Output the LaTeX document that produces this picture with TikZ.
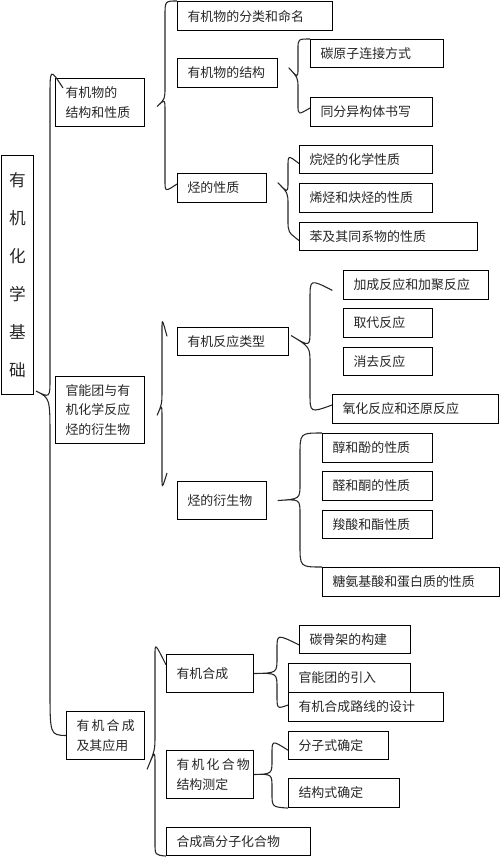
\documentclass[tikz,border=0pt]{standalone}
\usepackage{fontspec}
\setmainfont{Noto Sans CJK SC}

\begin{document}
\begin{tikzpicture}[x=0.75pt,y=0.75pt,yscale=-1,xscale=1,
  bx/.style 2 args={draw, line width=0.8pt, anchor=north west, inner xsep=7.5pt, inner ysep=0pt,
    align=left, text width=#1*0.75pt-15pt, minimum height=#2*0.75pt,
    text=black!85, font=\fontsize{9.7}{14.5}\selectfont},
  brc/.style={draw, line width=0.8pt, black!85}]
\useasboundingbox (0,0) rectangle (500,857);

%Root box
\node [draw, line width=0.8pt, anchor=north west, inner sep=0pt, minimum width=24pt, minimum height=179.25pt,
  align=center, text=black!85, font=\fontsize{12.5}{28.5}\selectfont] (root) at (1,155) {有\\机\\化\\学\\基\\础};

%Level one
\node [bx={89}{48}] (a) at (55,78) {有机物的\\结构和性质};
\node [bx={89}{67}] (b) at (55,376) {官能团与有\\机化学反应\\烃的衍生物};
\node [bx={78}{48}] (c) at (66,711) {有\,机\,合\,成\\及其应用};

%Structure and properties
\node [bx={155}{29}] (a1) at (177,1) {有机物的分类和命名};
\node [bx={100}{29}] (a2) at (177,58) {有机物的结构};
\node [bx={89}{29}] (a3) at (177,173) {烃的性质};
\node [bx={133}{28}] (a21) at (310,39) {碳原子连接方式};
\node [bx={122}{29}] (a22) at (310,97) {同分异构体书写};
\node [bx={133}{28}] (a31) at (299,145) {烷烃的化学性质};
\node [bx={133}{29}] (a32) at (299,183) {烯烃和炔烃的性质};
\node [bx={178}{28}] (a33) at (299,222) {苯及其同系物的性质};

%Functional groups
\node [bx={111}{28}] (b1) at (177,327) {有机反应类型};
\node [bx={89}{38}] (b2) at (177,481) {烃的衍生物};
\node [bx={145}{29}] (b11) at (343,270) {加成反应和加聚反应};
\node [bx={89}{29}] (b12) at (343,308) {取代反应};
\node [bx={89}{28}] (b13) at (343,347) {消去反应};
\node [bx={166}{29}] (b14) at (332,394) {氧化反应和还原反应};
\node [bx={110}{29}] (b21) at (322,433) {醇和酚的性质};
\node [bx={110}{29}] (b22) at (322,471) {醛和酮的性质};
\node [bx={110}{28}] (b23) at (322,510) {羧酸和酯性质};
\node [bx={177}{29}] (b24) at (322,567) {糖氨基酸和蛋白质的性质};

%Synthesis
\node [bx={87}{38}] (c1) at (166,654) {有机合成};
\node [bx={87}{48}] (c2) at (166,750) {有\,机\,化\,合\,物\\结构测定};
\node [bx={144}{28}] (c3) at (166,827) {合成高分子化合物};
\node [bx={111}{28}] (c11) at (299,625) {碳骨架的构建};
\node [bx={122}{29}] (c12) at (288,663) {官能团的引入};
\node [bx={155}{29}] (c13) at (288,692) {有机合成路线的设计};
\node [bx={100}{28}] (c21) at (288,731) {分子式确定};
\node [bx={111}{29}] (c22) at (288,778) {结构式确定};

%Curve Lines
\draw [brc] ([xshift=6pt,yshift=7.5pt]a.north west) .. controls (50,68) and (50,68) .. (50,98) -- (50,378) .. controls (50,398) and (50,398) .. ([xshift=1.5pt,yshift=-3pt]root.south east) .. controls (50,398) and (50,398) .. (50,438) -- (50,688) .. controls (50,735) and (50,735) .. (c.west) ;
%Curve Lines
\draw [brc] (a1.north west) .. controls (165,1) and (165,1) .. (165,16) -- (165,87) .. controls (165,99) and (165,99) .. ([xshift=9pt,yshift=3pt]a.east) .. controls (165,99) and (165,99) .. (165,111) -- (165,180) .. controls (165,192) and (165,192) .. ([yshift=-3pt]a3.west) ;
%Curve Lines
\draw [brc] (a21.north west) .. controls (298,39) and (298,39) .. (298,49) -- (298,68) .. controls (298,78) and (298,78) .. ([xshift=8pt,yshift=-4pt]a2.east) .. controls (298,78) and (298,78) .. (298,88) -- (298,105) .. controls (298,115) and (298,115) .. ([yshift=-3pt]a22.west) ;
%Curve Lines
\draw [brc] ([yshift=3pt]a31.west) .. controls (288,155) and (288,155) .. (288,167) -- (288,181) .. controls (288,193) and (288,193) .. ([xshift=8pt,yshift=-4pt]a3.east) .. controls (288,193) and (288,193) .. (288,205) -- (288,220) .. controls (288,232) and (288,232) .. ([yshift=3pt]a33.west) ;
%Curve Lines
\draw [brc] ([xshift=-7.5pt,yshift=7pt]b1.north west) .. controls (162,318) and (162,318) .. (162,330) -- (162,389) .. controls (162,404) and (162,404) .. ([xshift=9pt,yshift=4pt]b.east) .. controls (162,404) and (162,404) .. (162,419) -- (162,477) .. controls (162,489) and (162,489) .. ([xshift=-7.5pt,yshift=-6pt]b2.north west) ;
%Curve Lines
\draw [brc] ([xshift=-8pt,yshift=4pt]b11.west) .. controls (310,279) and (310,279) .. (310,299) -- (310,330) .. controls (310,347) and (310,347) .. ([xshift=1.5pt,yshift=-4.5pt]b1.east) .. controls (310,347) and (310,347) .. (310,364) -- (310,393) .. controls (310,413) and (310,413) .. ([yshift=-3pt]b14.west) ;
%Curve Lines
\draw [brc] (b21.north west) .. controls (300,433) and (300,433) .. (300,455) -- (300,484) .. controls (300,499) and (300,499) .. ([xshift=8pt]b2.east) .. controls (300,499) and (300,499) .. (300,514) -- (300,545) .. controls (300,567) and (300,567) .. (b24.north west) ;
%Curve Lines
\draw [brc] ([yshift=8pt]c1.north west) .. controls (155,643) and (155,643) .. (155,655) -- (155,735) .. controls (155,750) and (155,750) .. ([xshift=1.5pt,yshift=7pt]c.south east) .. controls (155,750) and (155,750) .. (155,765) -- (155,843) .. controls (155,855) and (155,855) .. (c3.south west) ;
%Curve Lines
\draw [brc] ([yshift=4pt]c11.west) .. controls (277,634) and (277,634) .. (277,649) -- (277,658) .. controls (277,673) and (277,673) .. (c1.east) .. controls (277,673) and (277,673) .. (277,688) -- (277,695) .. controls (277,709) and (277,709) .. ([yshift=-1.5pt]c13.west) ;
%Curve Lines
\draw [brc] ([yshift=3.5pt]c21.west) .. controls (272,740) and (272,740) .. (272,754) -- (272,760) .. controls (272,774) and (272,774) .. (c2.east) .. controls (272,774) and (272,774) .. (272,788) -- (272,793) .. controls (272,807) and (272,807) .. (c22.south west) ;
\end{tikzpicture}
\end{document}
